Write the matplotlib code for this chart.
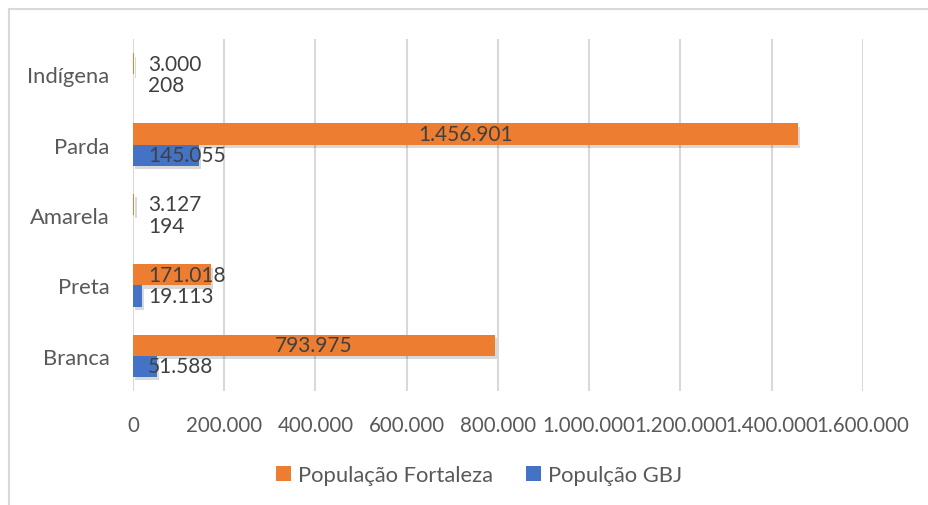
import matplotlib.pyplot as plt
import matplotlib.patheffects as pe
from matplotlib.lines import Line2D
from matplotlib.patches import Patch
import numpy as np

categories = ["Branca", "Preta", "Amarela", "Parda", "Indígena"]
fortaleza = [793975, 171018, 3127, 1456901, 3000]
gbj = [51588, 19113, 194, 145055, 208]
xticks = [0, 200000, 400000, 600000, 800000, 1000000, 1200000, 1400000, 1600000]

orange = "#ED7D31"
blue = "#4472C4"
grid_color = "#D9D9D9"
tick_color = "#595959"
label_color = "#404040"


def fmt(v):
    return f"{v:,}".replace(",", ".")


plt.rcParams["font.family"] = ["Lato", "DejaVu Sans"]

fig = plt.figure(figsize=(9.29, 5.06), dpi=100)
W, H = 929, 506
ax = fig.add_axes([133 / W, 1 - 392 / H, (863 - 133) / W, (392 - 40) / H])

y = np.arange(len(categories))
h = 0.3
shadow = [pe.SimplePatchShadow(offset=(1.5, -2.5), shadow_rgbFace="#000000", alpha=0.15), pe.Normal()]

bars_f = ax.barh(y + h / 2, fortaleza, height=h, color=orange, zorder=3)
bars_g = ax.barh(y - h / 2, gbj, height=h, color=blue, zorder=3)
for b in list(bars_f) + list(bars_g):
    b.set_path_effects(shadow)

# data labels
for yi, v in zip(y, fortaleza):
    if v > 500000:
        ax.text(v / 2, yi + h / 2, fmt(v), ha="center", va="center",
                fontsize=15, color=label_color, zorder=5)
    else:
        ax.annotate(fmt(v), (0, yi + h / 2), xytext=(15, 0), textcoords="offset pixels",
                    ha="left", va="center", fontsize=15, color=label_color, zorder=5)
for yi, v in zip(y, gbj):
    ax.annotate(fmt(v), (0, yi - h / 2), xytext=(15, 0), textcoords="offset pixels",
                ha="left", va="center", fontsize=15, color=label_color, zorder=5)

ax.set_xlim(0, 1600000)
ax.set_ylim(-0.5, len(categories) - 0.5)
ax.set_xticks(xticks)
ax.set_xticklabels([fmt(t) for t in xticks])
ax.set_yticks(y)
ax.set_yticklabels(categories)
ax.tick_params(axis="x", length=0, labelsize=14.8, labelcolor=tick_color, pad=17)
ax.tick_params(axis="y", length=0, labelsize=15.8, labelcolor=tick_color, pad=17)
ax.grid(axis="x", color=grid_color, linewidth=1.5, zorder=0)
for s in ax.spines.values():
    s.set_visible(False)

handles = [Patch(facecolor=orange, label="População Fortaleza"),
           Patch(facecolor=blue, label="Populção GBJ")]
fig.legend(handles=handles, loc="center", bbox_to_anchor=(479 / W, 1 - 476 / H), ncol=2,
           frameon=False, fontsize=15.8, labelcolor=tick_color, handlelength=0.7,
           handleheight=0.7, handletextpad=0.3, columnspacing=1.5)

# chart border (cropped on right and bottom)
fig.add_artist(Line2D([9.5 / W, 9.5 / W], [0, 1 - 10 / H], color=grid_color, linewidth=1.5))
fig.add_artist(Line2D([9.5 / W, 1], [1 - 10 / H, 1 - 10 / H], color=grid_color, linewidth=1.5))

fig.savefig("out.png", dpi=100)
